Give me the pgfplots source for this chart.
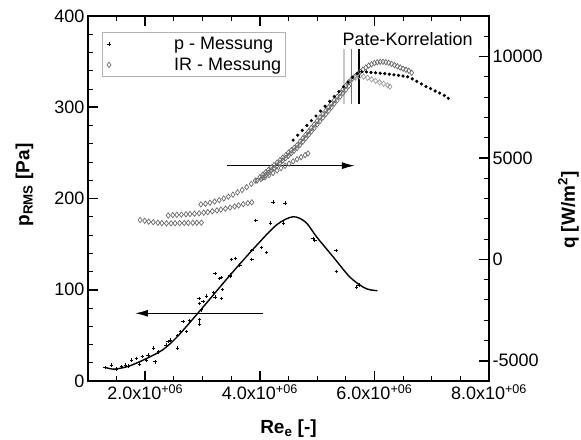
\documentclass[border=0pt]{standalone}
\usepackage{fontspec}
\setmainfont{Liberation Sans}
\usepackage{pgfplots}
\pgfplotsset{compat=1.18}
\usetikzlibrary{arrows.meta}
\definecolor{irgray}{gray}{0.42}
\definecolor{irlight}{gray}{0.62}
\definecolor{pate1}{gray}{0.78}
\definecolor{pate2}{gray}{0.45}
\begin{document}
\begin{tikzpicture}[font=\fontsize{18bp}{21bp}\selectfont]
\useasboundingbox (-88bp,-59bp) rectangle (493bp,381bp);
\pgfplotsset{
  common/.style={
    scale only axis, width=401bp, height=365bp,
    xmin=1, xmax=8,
    scaled x ticks=false, scaled y ticks=false,
    tick align=inside,
    major tick length=10bp, minor tick length=5bp,
    major tick style={black, line width=1.6bp},
    minor tick style={black, line width=0.9bp},
    axis line style={line width=1.8bp},
    tick label style={font=\fontsize{18bp}{21bp}\selectfont},
  }
}
\begin{axis}[common,
  ymin=0, ymax=400,
  ytick={0,100,200,300,400}, yticklabels={0,100,200,300,400},
  minor ytick={20,40,60,80,120,140,160,180,220,240,260,280,320,340,360,380},
  ytick pos=left,
  xtick={2,4,6,8},
  xticklabels={2.0x10\textsuperscript{+06},4.0x10\textsuperscript{+06},6.0x10\textsuperscript{+06},8.0x10\textsuperscript{+06}},
  minor xtick={1.5,2.5,3,3.5,4.5,5,5.5,6.5,7,7.5},
  xtick pos=both, xticklabel pos=bottom,
  xlabel={\bfseries Re\textsubscript{e} [-]},
  ylabel={\bfseries p\textsubscript{RMS} [Pa]},
  every axis x label/.style={at={(axis description cs:0.5,0)}, anchor=base, yshift=-52bp, font=\fontsize{19bp}{22bp}\selectfont},
  every axis y label/.style={at={(axis description cs:-0.146,0.537)}, anchor=base, rotate=90, font=\fontsize{19bp}{22bp}\selectfont},
  legend style={at={(axis description cs:0.034,0.957)}, anchor=north west, draw=gray!60, line width=0.8bp, fill=white, inner xsep=2bp, inner ysep=3bp, row sep=3bp, font=\fontsize{18bp}{21bp}\selectfont},
  legend cell align=left,
  legend image code/.code={\draw[#1] plot coordinates {(5bp,0bp)}; \path[draw=none,fill=none] (0bp,-4bp) rectangle (68bp,4bp);},
]
% p - Messung scatter
\addplot[only marks, mark=+, mark size=1.7bp, line width=0.75bp, black] coordinates {
(1.30,15) (1.41,17.5) (1.50,13.2) (1.59,15.7) (1.65,17.5) (1.70,16.4) (1.76,23)
(1.85,24.8) (1.90,18.6) (1.95,26.6) (2.02,23) (2.05,28.5) (2.14,36) (2.17,21)
(2.23,32) (2.36,39.5) (2.40,43) (2.43,45) (2.56,50) (2.56,36) (2.62,54) (2.66,65)
(2.72,54) (2.77,66) (2.94,90.6) (2.95,85) (2.95,67) (2.95,62.5) (2.98,78) (3.01,87)
(3.07,93) (3.19,97) (3.22,118) (3.22,92) (3.30,112.5) (3.32,113.6) (3.33,90.6)
(3.35,100.5) (3.48,116) (3.49,115) (3.51,133) (3.58,134.5) (3.65,127) (3.86,143)
(3.86,133) (3.93,176) (4.03,146.5) (4.12,141) (4.19,173) (4.23,196) (4.41,173)
(4.44,195) (4.93,156) (4.96,154) (5.33,143) (5.34,120) (5.69,103) (5.73,105)
};
\addlegendentry{p - Messung}
\addlegendimage{only marks, mark=diamond, mark size=2.7bp, irgray, line width=0.7bp}
\addlegendentry{IR - Messung}
% fit curve
\addplot[smooth, black, line width=1.4bp, forget plot] coordinates {
(1.30,15) (1.45,13) (1.70,16) (2.00,24) (2.30,34) (2.55,48) (2.90,73) (3.13,90)
(3.48,116) (3.89,145) (4.29,171) (4.58,180) (4.80,174) (4.99,158) (5.28,136)
(5.57,114) (5.80,103) (5.92,100) (6.05,99)
};
% arrows
\addplot[black, line width=1.3bp, -{Latex[length=13bp,width=7bp]}, forget plot] coordinates {(3.42,236) (5.66,236)};
\addplot[black, line width=1.3bp, -{Latex[length=13bp,width=7bp]}, forget plot] coordinates {(4.06,74.2) (1.82,74.2)};
\end{axis}

\begin{axis}[common,
  axis x line=none, axis y line*=right,
  tick align=inside,
  ymin=-6000, ymax=12000,
  ytick={-5000,0,5000,10000}, yticklabels={-5000,0,5000,10000},
  minor ytick={-6000,-4000,-3000,-2000,-1000,1000,2000,3000,4000,6000,7000,8000,9000,11000,12000},
  ylabel={\bfseries q [W/m\textsuperscript{2}]},
  every axis y label/.style={at={(axis description cs:1.214,0.468)}, anchor=base, rotate=90, font=\fontsize{19bp}{22bp}\selectfont},
]
% IR rows
\addplot[only marks, mark=diamond, mark size=2.7bp, irgray, line width=0.7bp] coordinates {
(1.91,1940) (1.99,1900) (2.06,1860) (2.14,1830) (2.22,1800) (2.29,1785) (2.37,1775)
(2.45,1775) (2.52,1780) (2.60,1785) (2.68,1790) (2.75,1795) (2.83,1800) (2.90,1805) (2.98,1810)
};
\addplot[only marks, mark=diamond, mark size=2.7bp, irgray, line width=0.7bp] coordinates {
(2.40,2160) (2.48,2180) (2.55,2195) (2.63,2205) (2.71,2220) (2.78,2235) (2.86,2250)
(2.94,2270) (3.02,2300) (3.09,2330) (3.17,2370) (3.25,2410) (3.32,2450) (3.40,2500)
(3.48,2550) (3.56,2610) (3.63,2660) (3.71,2720) (3.79,2770) (3.86,2810)
};
\addplot[only marks, mark=diamond, mark size=2.7bp, irgray, line width=0.7bp] coordinates {
(2.97,2710) (3.05,2740) (3.13,2790) (3.21,2850) (3.29,2920) (3.37,3000) (3.45,3090)
(3.53,3190) (3.61,3300) (3.69,3420) (3.77,3560) (3.85,3720) (3.92,3880)
(4.00,4050) (4.05,4170) (4.10,4290) (4.15,4410) (4.20,4530) (4.25,4650) (4.30,4770)
(4.35,4890) (4.40,5010) (4.45,5130) (4.50,5260) (4.55,5380) (4.60,5500) (4.65,5630)
(4.70,5800) (4.75,5970) (4.80,6140) (4.85,6310) (4.90,6480) (4.95,6650) (5.00,6820)
(5.05,6990) (5.10,7160) (5.15,7330) (5.20,7500) (5.25,7680) (5.30,7850) (5.35,8020)
(5.40,8200) (5.45,8370) (5.50,8550) (5.55,8730) (5.60,8880) (5.65,9000) (5.70,9120)
(5.75,9250) (5.80,9360) (5.85,9460) (5.90,9550) (5.95,9620) (6.00,9680) (6.05,9720)
(6.10,9740) (6.15,9740) (6.20,9720) (6.25,9690) (6.30,9640) (6.35,9580) (6.40,9520)
(6.45,9460) (6.50,9400) (6.55,9350) (6.60,9300) (6.65,9200)
};
% second dense run in the steep band
\addplot[only marks, mark=diamond, mark size=2.7bp, irgray, line width=0.7bp] coordinates {
(4.05,4030) (4.10,4150) (4.15,4270) (4.20,4390) (4.25,4510) (4.30,4630) (4.35,4750)
(4.40,4870) (4.45,4990) (4.50,5110) (4.55,5240) (4.60,5360) (4.65,5490) (4.70,5640)
(4.75,5800) (4.80,5970) (4.85,6140) (4.90,6310) (4.95,6480) (5.00,6650) (5.05,6820)
(5.10,6990) (5.15,7160) (5.20,7330) (5.25,7500) (5.30,7680) (5.35,7850) (5.40,8020)
(5.45,8200) (5.50,8370) (5.55,8550)
};
\addplot[only marks, mark=diamond, mark size=2.7bp, irgray, line width=0.7bp] coordinates {
(3.95,3880) (4.02,3960) (4.09,4050) (4.16,4150) (4.23,4260) (4.30,4380) (4.37,4500)
(4.44,4610) (4.51,4720) (4.58,4830) (4.65,4940) (4.72,5040) (4.79,5140) (4.84,5220)
};
\addplot[only marks, mark=diamond, mark size=2.7bp, irlight, line width=0.7bp] coordinates {
(5.60,8850) (5.67,8960) (5.74,9030) (5.81,9010) (5.88,8950) (5.95,8880) (6.02,8800)
(6.09,8730) (6.16,8660) (6.23,8580) (6.27,8520)
};
% upper dark dots
\addplot[only marks, mark=*, mark size=1.4bp, black] coordinates {
(4.58,5880) (4.66,6120) (4.74,6360) (4.82,6600) (4.90,6840) (4.98,7070) (5.06,7310)
(5.14,7550) (5.22,7790) (5.30,8030) (5.38,8270) (5.46,8510) (5.54,8740) (5.62,8980)
(5.70,9160) (5.78,9250) (5.86,9240) (5.94,9220) (6.02,9200) (6.10,9180) (6.18,9160)
(6.26,9130) (6.34,9100) (6.42,9070) (6.50,9040) (6.58,9000) (6.66,8900) (6.74,8780)
(6.82,8650) (6.90,8520) (6.98,8420) (7.06,8300) (7.14,8200) (7.22,8080) (7.29,7940)
};
% Pate-Korrelation lines
\addplot[pate1, line width=1.8bp] coordinates {(5.47,7650) (5.47,10370)};
\addplot[pate2, line width=1.8bp] coordinates {(5.60,7650) (5.60,10370)};
\addplot[black, line width=2.2bp] coordinates {(5.73,7650) (5.73,10370)};
\node[font=\fontsize{18bp}{21bp}\selectfont] at (axis cs:6.58,10860) {Pate-Korrelation};
\end{axis}
\end{tikzpicture}
\end{document}
